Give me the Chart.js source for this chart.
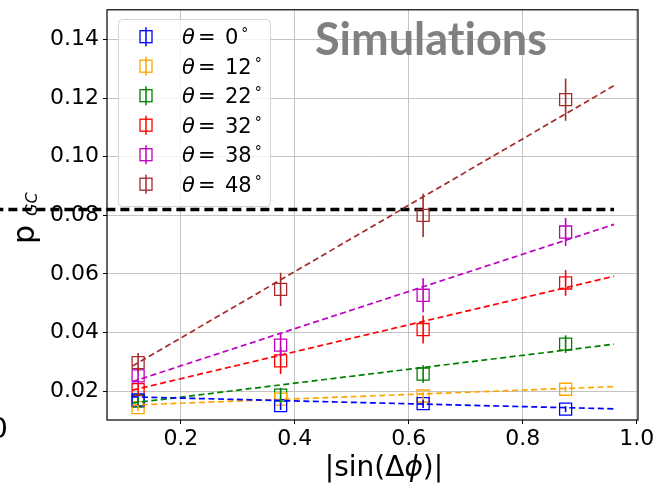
<!DOCTYPE html>
<html>
<head>
<meta charset="utf-8">
<script src="https://cdn.jsdelivr.net/npm/chart.js@4.4.0/dist/chart.umd.min.js"></script>
<style>
  body { margin: 0; background: #fff; }
</style>
</head>
<body>
<canvas id="chart" width="656" height="484"></canvas>
<script>
// sin(dphi) positions of the simulated points
const xPos = [0.125, 0.375, 0.625, 0.875];
const xTicks = [0.2, 0.4, 0.6, 0.8, 1.0];
const yTicks = [0.02, 0.04, 0.06, 0.08, 0.10, 0.12, 0.14];

const angles = [0, 12, 22, 32, 38, 48];
const colors = ['#0000ff', '#ffa500', '#008000', '#ff0000', '#bf00bf', '#a52a2a'];

// measured p_GC per angle
const theta0 = [0.0170, 0.0150, 0.0157, 0.0138];
const theta12 = [0.0143, 0.0172, 0.0183, 0.0206];
const theta22 = [0.0166, 0.0186, 0.0258, 0.0360];
const theta32 = [0.0205, 0.0303, 0.0410, 0.0569];
const theta38 = [0.0252, 0.0357, 0.0527, 0.0743];
const theta48 = [0.0297, 0.0547, 0.0800, 0.1195];

// error bar half-heights
const err0 = [0.0012, 0.0015, 0.0015, 0.0010];
const err12 = [0.0012, 0.0012, 0.0013, 0.0010];
const err22 = [0.0015, 0.0025, 0.0030, 0.0030];
const err32 = [0.0022, 0.0045, 0.0048, 0.0044];
const err38 = [0.0028, 0.0040, 0.0058, 0.0048];
const err48 = [0.0033, 0.0057, 0.0074, 0.0072];

// linear fits, value at each end of fitX
const fitX = [0.115, 0.96];
const fit0 = [0.0180, 0.0139];
const fit12 = [0.0152, 0.0215];
const fit22 = [0.0159, 0.0360];
const fit32 = [0.0203, 0.0592];
const fit38 = [0.0232, 0.0769];
const fit48 = [0.0285, 0.1243];

// critical level
const gcX = [-0.25, 0.96];
const gcLevel = 0.082;

const values = [theta0, theta12, theta22, theta32, theta38, theta48];
const errors = [err0, err12, err22, err32, err38, err48];
const fits = [fit0, fit12, fit22, fit32, fit38, fit48];

const FONT = "'DejaVu Sans', sans-serif";

const datasets = [];
fits.forEach((f, i) => {
    datasets.push({
        data: fitX.map((x, k) => ({ x: x, y: f[k] })),
        showLine: true,
        borderColor: colors[i],
        borderWidth: 1.7,
        borderDash: [6, 3.5],
        pointRadius: 0
    });
});
values.forEach((v, i) => {
    datasets.push({
        data: xPos.map((x, j) => ({ x: x, y: v[j] })),
        pointStyle: 'rect',
        pointRadius: 8.5,
        pointBorderWidth: 1.3,
        borderColor: colors[i],
        backgroundColor: 'rgba(0,0,0,0)'
    });
});
datasets.push({
    data: gcX.map(x => ({ x: x, y: gcLevel })),
    showLine: true,
    borderColor: '#000',
    borderWidth: 3.5,
    borderDash: [9, 5],
    pointRadius: 0,
    clip: false
});

const extras = {
    id: 'extras',
    afterDatasetsDraw(chart) {
        const { ctx, scales: { x, y } } = chart;
        ctx.save();
        ctx.lineWidth = 1.6;
        values.forEach((v, i) => {
            ctx.strokeStyle = colors[i];
            v.forEach((val, j) => {
                const px = x.getPixelForValue(xPos[j]);
                ctx.beginPath();
                ctx.moveTo(px, y.getPixelForValue(val - errors[i][j]));
                ctx.lineTo(px, y.getPixelForValue(val + errors[i][j]));
                ctx.stroke();
            });
        });
        ctx.restore();
    },
    afterDraw(chart) {
        const { ctx, chartArea: a } = chart;
        ctx.save();

        // frame
        ctx.strokeStyle = '#000';
        ctx.lineWidth = 1.2;
        ctx.strokeRect(a.left, a.top, a.right - a.left, a.bottom - a.top);

        // legend
        ctx.fillStyle = 'rgba(255,255,255,0.8)';
        ctx.strokeStyle = '#d4d4d4';
        ctx.lineWidth = 1;
        ctx.beginPath();
        ctx.roundRect(118.5, 19.5, 152, 187, 4);
        ctx.fill();
        ctx.stroke();
        angles.forEach((ang, i) => {
            const cy = 36.7 + i * 29.5;
            ctx.strokeStyle = colors[i];
            ctx.lineWidth = 1.3;
            ctx.strokeRect(140, cy - 6, 12, 12);
            ctx.lineWidth = 1.5;
            ctx.beginPath();
            ctx.moveTo(146, cy - 9.5);
            ctx.lineTo(146, cy + 9.5);
            ctx.stroke();

            ctx.fillStyle = '#000';
            ctx.textAlign = 'left';
            ctx.textBaseline = 'alphabetic';
            ctx.font = 'italic 21px ' + FONT;
            ctx.fillText('\u03b8', 182, cy + 7.6);
            ctx.font = '21px ' + FONT;
            ctx.fillText('=', 198, cy + 7.6);
            const num = String(ang);
            ctx.fillText(num, 225, cy + 7.6);
            const w = ctx.measureText(num).width;
            ctx.font = '14px ' + FONT;
            ctx.fillText('\u00b0', 225 + w + 3, cy + 1.5);
        });

        // watermark, drawn in two pieces so that "ti" stays unligated
        ctx.fillStyle = '#808080';
        ctx.font = "bold 45px Lato, 'Open Sans', sans-serif";
        ctx.textAlign = 'left';
        const head = 'Simulat';
        ctx.fillText(head, 315, 55);
        ctx.fillText('ions', 315 + ctx.measureText(head).width, 55);

        // y label p_GC
        ctx.fillStyle = '#000';
        ctx.save();
        ctx.translate(34, 244);
        ctx.rotate(-Math.PI / 2);
        ctx.font = '30px ' + FONT;
        ctx.fillText('p', 0, 0);
        ctx.font = 'italic 16px ' + FONT;
        ctx.fillText('GC', 28, 3);
        ctx.restore();

        // x label |sin(dphi)|
        const parts = [['|sin(\u0394', ''], ['\u03d5', 'italic '], [')|', '']];
        let total = 0;
        parts.forEach(p => {
            ctx.font = p[1] + '28px ' + FONT;
            total += ctx.measureText(p[0]).width;
        });
        let tx = 384 - total / 2;
        parts.forEach(p => {
            ctx.font = p[1] + '28px ' + FONT;
            ctx.fillText(p[0], tx, 476);
            tx += ctx.measureText(p[0]).width;
        });

        // clipped tick of a neighbouring panel
        ctx.font = '29px ' + FONT;
        ctx.textAlign = 'right';
        ctx.fillText('0', 8, 438);

        ctx.restore();
    }
};

new Chart(document.getElementById('chart'), {
    type: 'scatter',
    data: { datasets: datasets },
    options: {
        responsive: false,
        animation: false,
        events: [],
        layout: { padding: { left: 0, top: 9, right: 18, bottom: 0 } },
        plugins: { legend: { display: false }, tooltip: { enabled: false } },
        scales: {
            x: {
                type: 'linear',
                min: 0.0704,
                max: 1.002,
                afterBuildTicks: s => { s.ticks = xTicks.map(v => ({ value: v })); },
                afterFit: s => { s.height = 64; s.paddingLeft = 0; s.paddingRight = 0; },
                grid: { color: '#c4c4c4', tickColor: '#000', tickLength: 4, lineWidth: 1 },
                border: { display: false },
                ticks: {
                    color: '#000',
                    padding: 2,
                    maxRotation: 0,
                    font: { family: FONT, size: 22 },
                    callback: v => v.toFixed(1)
                }
            },
            y: {
                type: 'linear',
                min: 0.0101,
                max: 0.1502,
                afterBuildTicks: s => { s.ticks = yTicks.map(v => ({ value: v })); },
                afterFit: s => { s.width = 107; s.paddingTop = 0; s.paddingBottom = 0; },
                grid: { color: '#c4c4c4', tickColor: '#000', tickLength: 4, lineWidth: 1 },
                border: { display: false },
                ticks: {
                    color: '#000',
                    padding: 4,
                    font: { family: FONT, size: 22 },
                    callback: v => v.toFixed(2)
                }
            }
        }
    },
    plugins: [extras]
});
</script>
</body>
</html>
